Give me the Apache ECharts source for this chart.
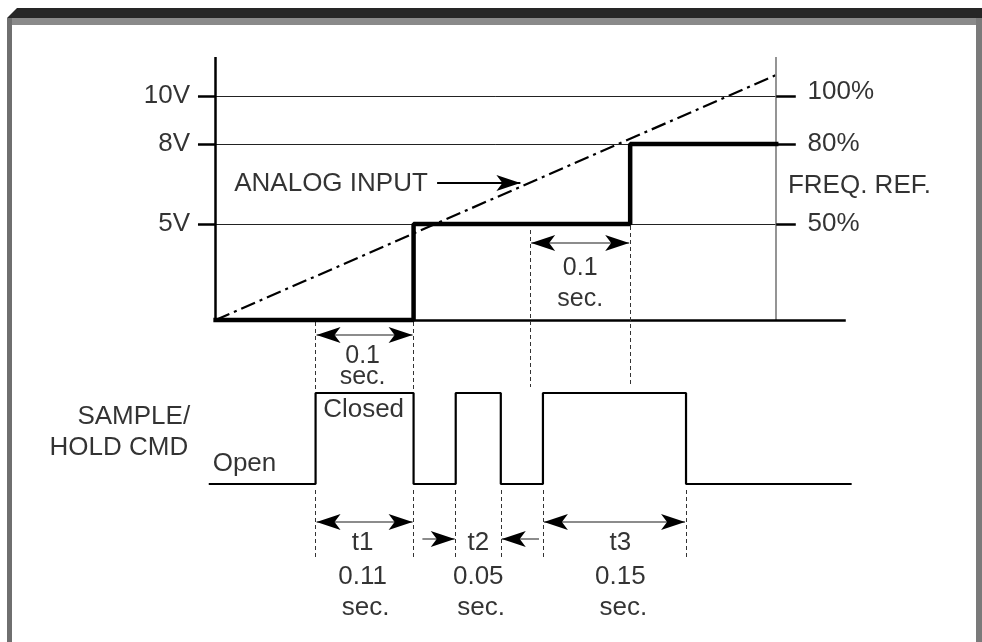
<!DOCTYPE html>
<html>
<head>
<meta charset="utf-8">
<title>Analog input sample / hold</title>
<script src="https://cdn.jsdelivr.net/npm/echarts@6/dist/echarts.min.js"></script>
<style>
  html, body { margin: 0; padding: 0; background: #fff; }
  #chart { width: 982px; height: 642px; }
</style>
</head>
<body>
<div id="chart"></div>
<script>
// x: time in ms from the start of the ramp, y: drawing units above the baseline
var levelVolts = ['5V', '8V', '10V'];
var levelPercent = ['50%', '80%', '100%'];
var levelY = [96, 176, 224];
var axisTop = 263;
var refX = 572;
var baseEnd = 643;

var analogTimes = [0, 572];
var analogLevels = [0, 245];

var stepTimes = [0, 202, 423, 572];
var stepLevels = [0, 96, 176];

var holdEdges = [-7, 102, 202, 245, 291, 334, 480, 649];
var holdStates = [0, 1, 0, 1, 0, 1, 0];
var holdLow = -164;
var holdHigh = -73;

var spanNames = ['t1', 't2', 't3'];
var spanSeconds = ['0.11', '0.05', '0.15'];
var spanCenters = [150, 268, 413];

var FONT = 'Liberation Sans, Arial, Helvetica, sans-serif';

function pairs(list) {
  return list.map(function (p) {
    return [{ coord: p[0] }, { coord: p[1] }];
  });
}

var stepData = [];
for (var i = 0; i < stepLevels.length; i++) {
  stepData.push([stepTimes[i], stepLevels[i]]);
  stepData.push([stepTimes[i + 1], stepLevels[i]]);
}

var holdData = [];
for (var i = 0; i < holdStates.length; i++) {
  var y = holdStates[i] ? holdHigh : holdLow;
  holdData.push([holdEdges[i], y]);
  holdData.push([holdEdges[i + 1], y]);
}

var gridLines = levelY.map(function (v) { return [[0, v], [refX, v]]; });

var axisLines = [[[0, 0], [0, axisTop]], [[0, 0], [baseEnd, 0]]];
levelY.forEach(function (v) {
  axisLines.push([[-18, v], [0, v]]);
  axisLines.push([[refX, v], [592, v]]);
});

var guideLines = [
  [[102, -2], [102, -70]],
  [[202, -2], [202, -70]],
  [[321, 90], [321, -67]],
  [[423, 94], [423, -67]]
];
[102, 202, 245, 291, 334, 480].forEach(function (t) {
  guideLines.push([[t, -170], [t, -238]]);
});

var spanArrows = [
  [[103, -15], [201, -15]],
  [[322, 77], [422, 77]],
  [[103, -202], [201, -202]],
  [[335, -202], [479, -202]]
];
var pointArrows = [
  [[211, -219], [244, -219]],
  [[330, -219], [292, -219]]
];
var analogPointer = [[[226, 137], [311, 137]]];

var texts = [
  { v: [-26, levelY[0]], t: levelVolts[0], a: 'right' },
  { v: [-26, levelY[1]], t: levelVolts[1], a: 'right' },
  { v: [-26, levelY[2]], t: levelVolts[2], a: 'right' },
  { v: [604, levelY[0]], t: levelPercent[0], a: 'left' },
  { v: [604, levelY[1]], t: levelPercent[1], a: 'left' },
  { v: [604, levelY[2] + 4], t: levelPercent[2], a: 'left' },
  { v: [584, 134], t: 'FREQ. REF.', a: 'left' },
  { v: [19, 136], t: 'ANALOG INPUT', a: 'left' },
  { v: [150, -36], t: '0.1', a: 'center', s: 25 },
  { v: [150, -57], t: 'sec.', a: 'center', s: 25 },
  { v: [372, 52], t: '0.1', a: 'center', s: 25 },
  { v: [372, 21], t: 'sec.', a: 'center', s: 25 },
  { v: [151, -90], t: 'Closed', a: 'center' },
  { v: [-3, -144], t: 'Open', a: 'left' },
  { v: [-26, -97], t: 'SAMPLE/', a: 'right' },
  { v: [-28, -128], t: 'HOLD CMD', a: 'right' }
];
for (var i = 0; i < spanNames.length; i++) {
  texts.push({ v: [spanCenters[i], -223], t: spanNames[i], a: 'center' });
  texts.push({ v: [spanCenters[i], -257], t: spanSeconds[i], a: 'center' });
  texts.push({ v: [spanCenters[i] + 3, -288], t: 'sec.', a: 'center' });
}

function markSeries(name, lines, style, symbol) {
  return {
    name: name,
    type: 'line',
    data: [],
    silent: true,
    z: 3,
    markLine: {
      silent: true,
      animation: false,
      symbol: symbol || 'none',
      symbolSize: [12, 24],
      label: { show: false },
      emphasis: { disabled: true },
      lineStyle: style,
      data: pairs(lines)
    }
  };
}

var chart = echarts.init(document.getElementById('chart'), null, { renderer: 'canvas' });
chart.setOption({
  animation: false,
  backgroundColor: '#ffffff',
  grid: { left: 0, right: 0, top: 0, bottom: 0 },
  xAxis: { type: 'value', min: -220, max: 782, show: false },
  yAxis: { type: 'value', min: -322, max: 320, show: false },
  graphic: [
    { type: 'polygon', shape: { points: [[7, 18], [17, 8], [982, 8], [982, 18]] }, style: { fill: '#262626' } },
    { type: 'rect', shape: { x: 7, y: 18, width: 975, height: 7 }, style: { fill: '#8a8a8a' } },
    { type: 'rect', shape: { x: 7, y: 18, width: 5, height: 624 }, style: { fill: '#6f6f6f' } },
    { type: 'rect', shape: { x: 976, y: 18, width: 6, height: 624 }, style: { fill: '#7a7a7a' } }
  ],
  series: [
    markSeries('grid', gridLines, { color: '#222', width: 1, type: 'solid' }),
    markSeries('ref', [[[refX, 0], [refX, axisTop]]], { color: '#7a7a7a', width: 1.6, type: 'solid' }),
    markSeries('axes', axisLines, { color: '#000', width: 2.5, type: 'solid' }),
    markSeries('guides', guideLines, { color: '#333', width: 1, type: [4, 3] }),
    markSeries('spanShafts', spanArrows.concat(pointArrows), { color: '#666', width: 1.5, type: 'solid' }),
    markSeries('spanHeads', spanArrows, { color: '#000', width: 0.01, type: 'solid' }, ['arrow', 'arrow']),
    markSeries('pointHeads', pointArrows, { color: '#000', width: 0.01, type: 'solid' }, ['none', 'arrow']),
    markSeries('analogPointer', analogPointer, { color: '#000', width: 2, type: 'solid' }, ['none', 'arrow']),
    {
      name: 'ANALOG INPUT',
      type: 'line',
      data: analogTimes.map(function (t, i) { return [t, analogLevels[i]]; }),
      showSymbol: false,
      silent: true,
      lineStyle: { color: '#000', width: 2.2, type: [15, 5, 3, 5] },
      z: 4
    },
    {
      name: 'FREQ. REF.',
      type: 'line',
      data: stepData,
      showSymbol: false,
      silent: true,
      lineStyle: { color: '#000', width: 4.5, cap: 'square' },
      z: 5
    },
    {
      name: 'SAMPLE/HOLD CMD',
      type: 'line',
      data: holdData,
      showSymbol: false,
      silent: true,
      lineStyle: { color: '#000', width: 2.2 },
      z: 5
    },
    {
      name: 'text',
      type: 'scatter',
      silent: true,
      symbolSize: 0,
      clip: false,
      z: 6,
      data: texts.map(function (d) {
        return {
          value: d.v,
          label: {
            show: true,
            position: 'inside',
            formatter: d.t,
            align: d.a,
            verticalAlign: 'middle',
            color: '#000',
            fontFamily: FONT,
            fontSize: d.s || 26
          }
        };
      })
    }
  ]
});
</script>
</body>
</html>
